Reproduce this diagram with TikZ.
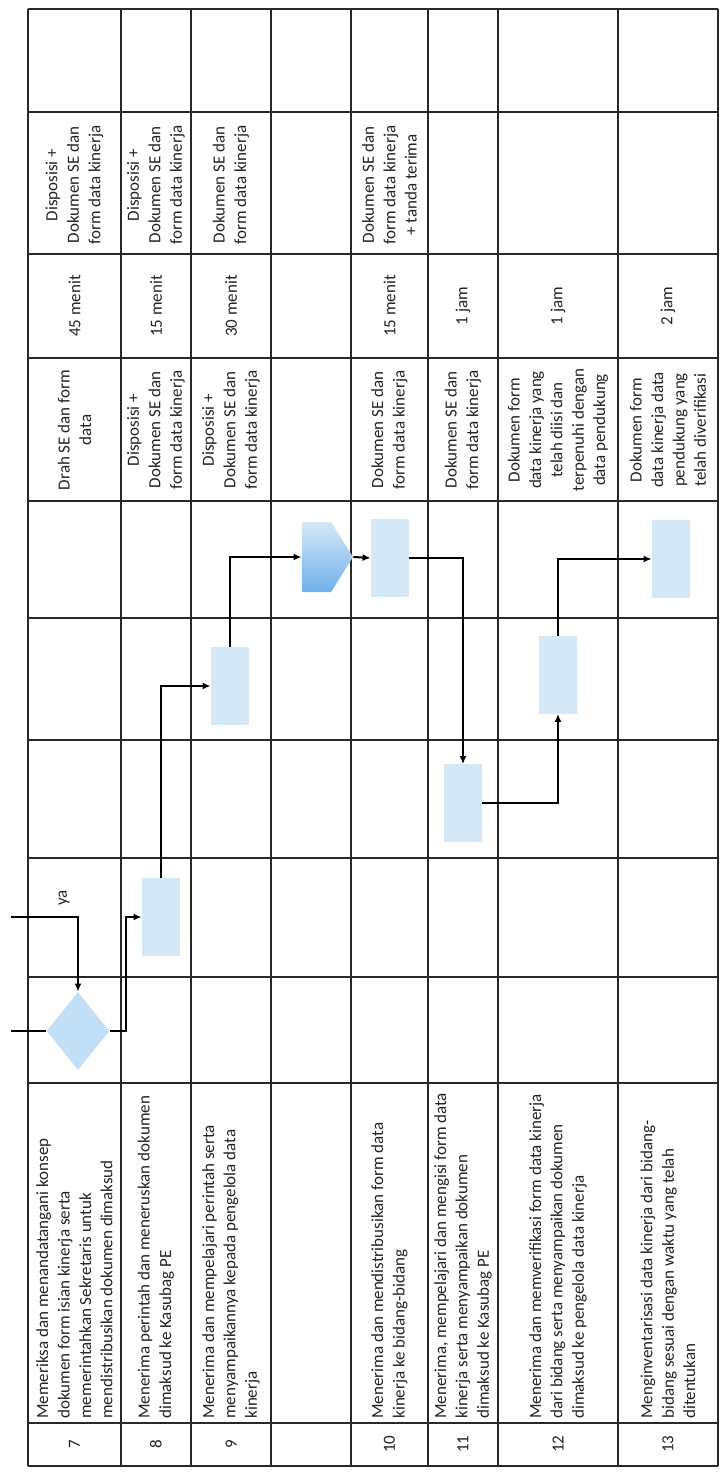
\documentclass[tikz,border=0pt]{standalone}
\usepackage{fontspec}
\setmainfont{Carlito}
\usetikzlibrary{arrows.meta, shapes.geometric, shapes.symbols}
\definecolor{gridline}{RGB}{40,40,40}
\definecolor{boxlight}{RGB}{212,232,248}
\definecolor{boxmid}{RGB}{160,208,242}
\definecolor{pentdark}{RGB}{112,176,234}
\definecolor{inktext}{RGB}{35,35,35}

\begin{document}
\begin{tikzpicture}[
    x=0.5pt, y=-0.5pt,
    gridln/.style={draw=gridline, line width=0.75pt},
    cell/.style={rotate=90, font=\fontsize{8.5}{10.7}\selectfont, text=inktext,
        align=center, inner sep=0pt},
    task/.style={cell, align=left, anchor=west},
    proc/.style={draw=none, left color=boxlight, middle color=boxmid, right color=boxlight,
        minimum width=19pt, minimum height=38.5pt, inner sep=0pt},
    decide/.style={diamond, draw=none, fill=boxmid!65!white,
        minimum width=31.5pt, minimum height=39pt, inner sep=0pt},
    offpage/.style={signal, signal to=east, signal pointer angle=116, draw=none,
        top color=boxlight, bottom color=pentdark,
        minimum width=25.5pt, minimum height=35pt, inner sep=0pt},
    link/.style={line width=1pt, draw=black},
    flow/.style={link, -{Latex[length=4pt,width=3.5pt]}}
]
\useasboundingbox (0,0) rectangle (720,1473);

% table grid
\foreach \x in {28,121,191,271,351,428,498,618,718}
    \draw[gridln] (\x,9) -- (\x,1466);
\foreach \y in {9,112,254,358,501,618,740,858,977,1083,1423,1466}
    \draw[gridln] (28,\y) -- (718,\y);

% nomor
\node[cell] (no7) at (74.5,1444) {7};
\node[cell] (no8) at (156,1444) {8};
\node[cell] (no9) at (231,1444) {9};
\node[cell] (no10) at (389.5,1444) {10};
\node[cell] (no11) at (463,1444) {11};
\node[cell] (no12) at (558,1444) {12};
\node[cell] (no13) at (668,1444) {13};

% kegiatan
\node[task] (keg7) at (74.5,1419) {Memeriksa dan menandatangani konsep\\
    dokumen form isian kinerja serta\\
    memerintahkan Sekretaris untuk\\
    mendistribusikan dokumen dimaksud};
\node[task] (keg8) at (156,1419) {Menerima perintah dan meneruskan dokumen\\
    dimaksud ke Kasubag PE};
\node[task] (keg9) at (231,1419) {Menerima dan mempelajari perintah serta\\
    menyampaikannya kepada pengelola data\\
    kinerja};
\node[task] (keg10) at (389.5,1419) {Menerima dan mendistribusikan form data\\
    kinerja ke bidang-bidang};
\node[task] (keg11) at (463,1419) {Menerima, mempelajari dan mengisi form data\\
    kinerja serta menyampaikan dokumen\\
    dimaksud ke Kasubag PE};
\node[task] (keg12) at (558,1419) {Menerima dan memverifikasi form data kinerja\\
    dari bidang serta menyampaikan dokumen\\
    dimaksud ke pengelola data kinerja};
\node[task] (keg13) at (668,1419) {Menginventarisasi data kinerja dari bidang-\\
    bidang sesuai dengan waktu yang telah\\
    ditentukan};

% kelengkapan
\node[cell] (kel7) at (74.5,430) {Drah SE dan form\\data};
\node[cell] (kel8) at (156,430) {Disposisi +\\Dokumen SE dan\\form data kinerja};
\node[cell] (kel9) at (231,430) {Disposisi +\\Dokumen SE dan\\form data kinerja};
\node[cell] (kel10) at (389.5,430) {Dokumen SE dan\\form data kinerja};
\node[cell] (kel11) at (463,430) {Dokumen SE dan\\form data kinerja};
\node[cell] (kel12) at (558,430) {Dokumen form\\data kinerja yang\\telah diisi dan\\terpenuhi dengan\\data pendukung};
\node[cell] (kel13) at (668,430) {Dokumen form\\data kinerja data\\pendukung yang\\telah diverifikasi};

% waktu
\node[cell] (wkt7) at (74.5,306) {45 menit};
\node[cell] (wkt8) at (156,306) {15 menit};
\node[cell] (wkt9) at (231,306) {30 menit};
\node[cell] (wkt10) at (389.5,306) {15 menit};
\node[cell] (wkt11) at (463,306) {1 jam};
\node[cell] (wkt12) at (558,306) {1 jam};
\node[cell] (wkt13) at (668,306) {2 jam};

% output
\node[cell] (out7) at (74.5,185) {Disposisi +\\Dokumen SE dan\\form data kinerja};
\node[cell] (out8) at (156,185) {Disposisi +\\Dokumen SE dan\\form data kinerja};
\node[cell] (out9) at (231,185) {Dokumen SE dan\\form data kinerja};
\node[cell] (out10) at (389.5,185) {Dokumen SE dan\\form data kinerja\\+ tanda terima};

% flow symbols
\node[decide] (dec7) at (78,1031) {};
\node[proc] (box8) at (161,917) {};
\node[proc] (box9) at (230,686) {};
\node[offpage] (pent) at (316.5,557) {};
\node[proc] (box10) at (390,558) {};
\node[proc] (box11) at (463,803) {};
\node[proc] (box12) at (558,675) {};
\node[proc] (box13) at (671,559) {};

\coordinate (fromPrev) at (11,1031);
\coordinate (fromYa) at (11,917);
\coordinate (turn8) at (126,1031);

% connectors
\draw[link] (fromPrev) -- (dec7.west);
\draw[flow] (fromYa) -| (dec7.north);
\node[cell] (ya) at (64,898) {ya};
\draw[flow] (dec7.east) -- (turn8) |- (box8.west);
\draw[flow] (box8.north) |- (box9.west);
\draw[flow] (box9.north) |- (pent.west);
\draw[flow] (pent.east) -- (box10.west);
\draw[flow] (box10.east) -| (box11.north);
\draw[flow] (box11.east) -| (box12.south);
\draw[flow] (box12.north) |- (box13.west);

\end{tikzpicture}
\end{document}
